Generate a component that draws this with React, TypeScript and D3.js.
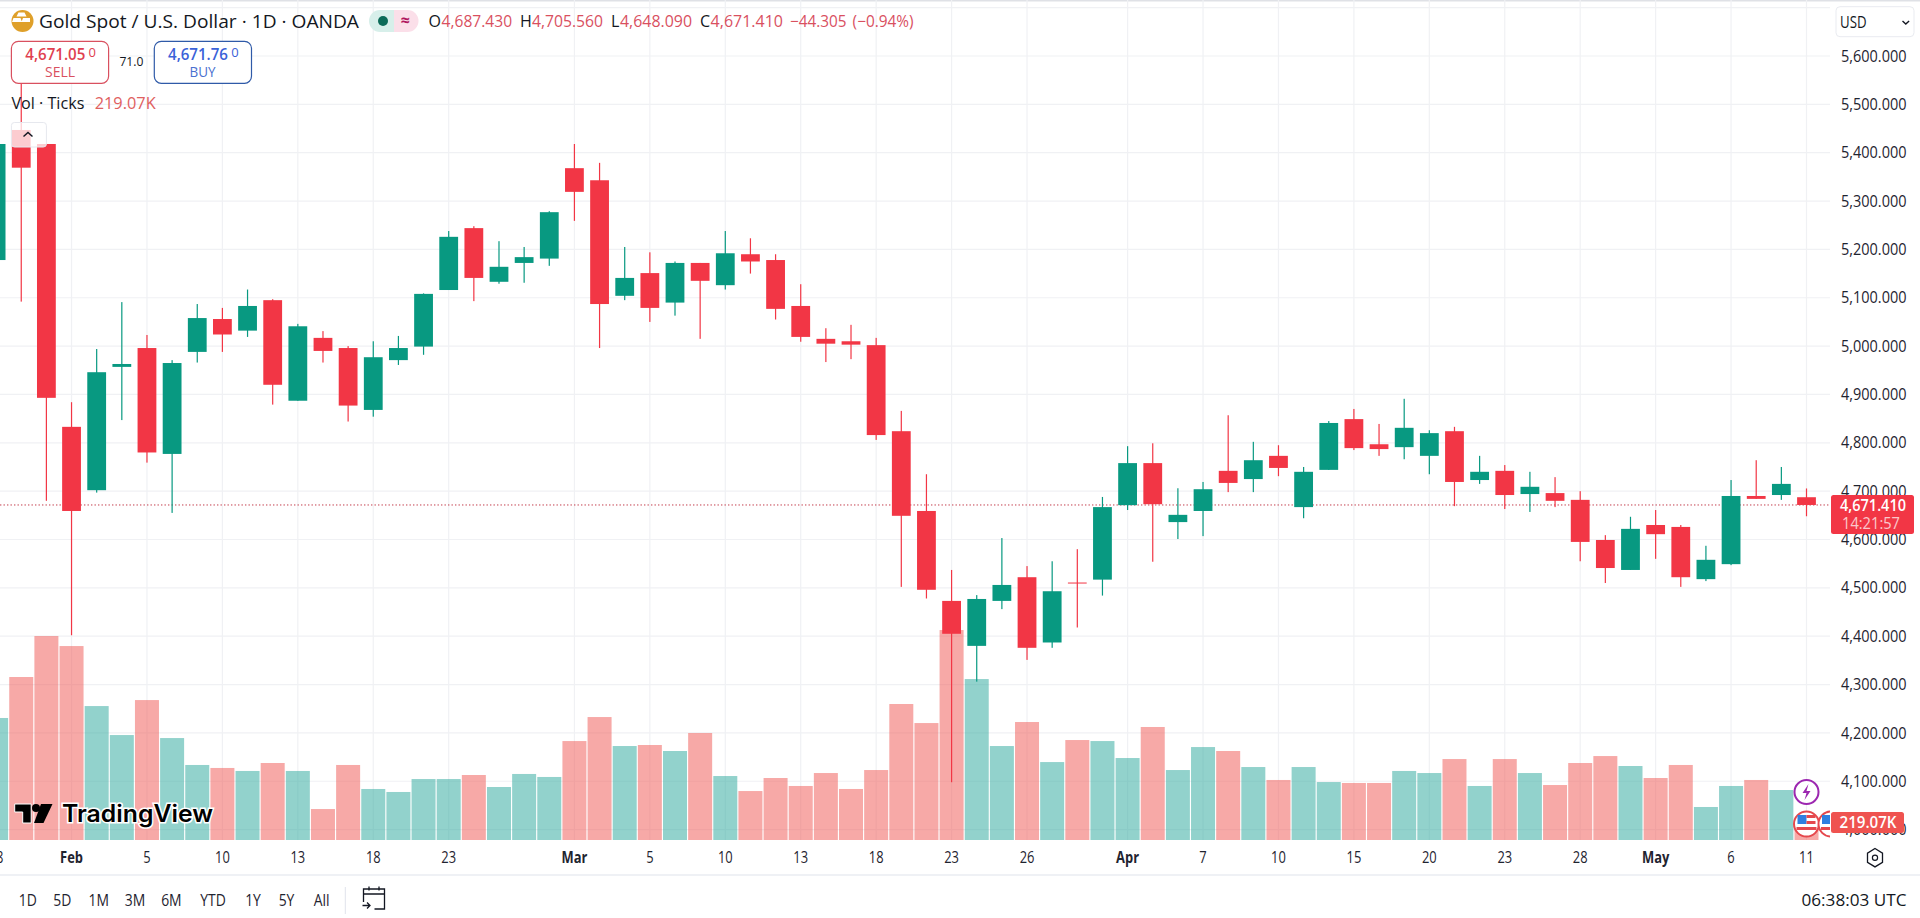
import React from "react";
import * as d3 from "d3";

// Daily candles, oldest first (first bar is 28 Jan)
const opens = [5178,5447,5418,4833,4702,4957,4996,4777,4988,5056,5032,5095,4887,5017,4996,4868,4971,4999,5116,5244,5133,5172,5181,5368,5343,5104,5151,5090,5172,5126,5190,5178,5083,5015,5010,5002,4824,4659,4473,4380,4473,4522,4387,4511,4517,4671,4758,4636,4659,4742,4725,4773,4667,4744,4849,4797,4791,4773,4824,4723,4742,4694,4696,4682,4599,4537,4630,4626,4518,4549,4690,4692,4687.43];
const highs = [5450,5543,5418,4884,4994,5091,5023,4971,5087,5079,5117,5097,5046,5031,5000,5010,5021,5109,5238,5248,5217,5205,5279,5418,5379,5205,5194,5175,5172,5238,5223,5190,5128,5037,5044,5017,4866,4735,4537,4485,4603,4545,4555,4580,4688,4793,4799,4706,4719,4857,4802,4795,4750,4845,4870,4839,4891,4826,4833,4773,4754,4740,4729,4700,4609,4647,4661,4630,4587,4723,4764,4750,4705.56];
const lows = [5100,5092,4680,4402,4697,4847,4759,4655,4966,4988,5019,4879,4887,4966,4844,4854,4961,4982,5116,5093,5129,5131,5166,5259,4996,5095,5050,5063,5015,5117,5150,5055,5009,4967,4973,4806,4502,4478,4098,4306,4456,4351,4376,4418,4484,4661,4554,4601,4607,4698,4698,4731,4644,4744,4785,4773,4766,4735,4669,4715,4663,4657,4667,4555,4510,4537,4560,4502,4514,4547,4684,4682,4648.09];
const closes = [5418,5369,4893,4659,4946,4963,4780,4965,5058,5024,5083,4920,5041,4990,4877,4977,4996,5108,5226,5141,5164,5184,5277,5319,5087,5141,5079,5172,5135,5192,5175,5077,5019,5005,5003,4816,4649,4496,4405,4477,4506,4376,4493,4509,4667,4758,4673,4651,4704,4717,4764,4748,4740,4841,4789,4787,4831,4820,4719,4740,4692,4709,4680,4595,4541,4622,4611,4522,4558,4690,4684,4715,4671.41];
const volumes = [1545,2064,2583,2456,1696,1329,1772,1291,950,912,874,975,874,392,950,646,608,772,772,823,671,836,798,1253,1557,1190,1203,1127,1355,810,620,785,684,848,646,886,1722,1481,2659,2038,1190,1494,987,1266,1253,1038,1431,886,1177,1127,924,760,924,734,722,722,874,848,1025,684,1025,848,696,975,1063,937,785,950,418,684,760,633,219.07];

const timeTickBars = [0,3,6,9,12,15,18,23,26,29,32,35,38,41,45,48,51,54,57,60,63,66,69,72];
const timeTickLabels = ["28","Feb","5","10","13","18","23","Mar","5","10","13","18","23","26","Apr","7","10","15","20","23","28","May","6","11"];
const monthLabels = ["Feb","Mar","Apr","May"];
const priceTicks = [5600,5500,5400,5300,5200,5100,5000,4900,4800,4700,4600,4500,4400,4300,4200,4100,4000];
const gridPrices = [5700, ...priceTicks];
const lastPrice = 4671.41;
const ranges = [["1D",27.8],["5D",62.4],["1M",98.8],["3M",135],["6M",171.4],["YTD",213],["1Y",253],["5Y",286.5],["All",321.6]] as const;

const UP = "#089981";
const DOWN = "#f23645";
const VOL_UP = "rgba(38,166,154,0.5)";
const VOL_DOWN = "rgba(239,83,80,0.5)";
const GRID = "#f0f1f4";
const TXT = "#131722";
const FONT = "'Open Sans', 'Noto Sans', sans-serif";

const W = 1920, H = 918, PANE_R = 1830, PANE_B = 840;

const x = d3.scaleLinear().domain([0, opens.length - 1]).range([-3.9, 1806.5]);
const y = d3.scaleLinear().domain([5600, 4000]).range([56, 829.6]);
const volY = d3.scaleLinear().domain([0, 219.07]).range([PANE_B, PANE_B - 17.3]);
const BODY = 18.8, VOLW = 24;

const fmt = d3.format(",.3f");

function T(p: any) {
  const { len, ...rest } = p;
  return <text fontFamily={FONT} fill={TXT} textLength={len} lengthAdjust={len ? "spacingAndGlyphs" : undefined} {...rest} />;
}

// Narrow, tall text: the reference's glyphs are condensed horizontally
function N(p: any) {
  const { x: px, y: py, sx, ...rest } = p;
  return <T transform={`translate(${px} ${py}) scale(${sx} 1)`} {...rest} />;
}

function Flag({ cx, cy }: { cx: number; cy: number }) {
  return (
    <g>
      <circle cx={cx} cy={cy} r={12.5} fill="#fff" stroke="#e5484d" strokeWidth={2} />
      <rect x={cx - 9} y={cy - 9} width={9} height={9} fill="#2f7fe0" />
      <rect x={cx} y={cy - 9} width={9} height={3} fill="#e5484d" />
      <rect x={cx} y={cy - 3} width={9} height={3} fill="#e5484d" />
      <rect x={cx - 10} y={cy + 3} width={20} height={3} fill="#e5484d" />
    </g>
  );
}

export default function App() {
  const isUp = (i: number) => closes[i] >= opens[i];
  return (
    <svg width={W} height={H} viewBox={`0 0 ${W} ${H}`} style={{ position: "absolute", left: 0, top: 0, display: "block", background: "#fff" }}>
      <defs>
        <clipPath id="pane"><rect x={0} y={0} width={PANE_R} height={PANE_B} /></clipPath>
      </defs>
      <rect x={0} y={0} width={W} height={1.5} fill="#dfe1e6" />

      {/* grid */}
      {gridPrices.map((p) => (
        <line key={p} x1={0} x2={PANE_R} y1={y(p)} y2={y(p)} stroke={GRID} strokeWidth={1.2} />
      ))}
      {timeTickBars.map((b) => (
        <line key={b} x1={x(b)} x2={x(b)} y1={0} y2={PANE_B} stroke={GRID} strokeWidth={1.2} />
      ))}

      {/* volume */}
      <g clipPath="url(#pane)">
        {volumes.map((v, i) => (
          <rect key={i} x={x(i) - VOLW / 2} y={volY(v)} width={VOLW} height={PANE_B - volY(v)} fill={isUp(i) ? VOL_UP : VOL_DOWN} />
        ))}
      </g>

      {/* last price line */}
      <line x1={0} x2={PANE_R} y1={y(lastPrice)} y2={y(lastPrice)} stroke="#c23a4a" strokeWidth={1} strokeDasharray="1.4 2.1" />

      {/* candles */}
      <g clipPath="url(#pane)">
        {opens.map((o, i) => {
          const c = closes[i];
          const col = isUp(i) ? UP : DOWN;
          const top = y(Math.max(o, c));
          const bot = y(Math.min(o, c));
          return (
            <g key={i}>
              <rect x={x(i) - 0.6} y={y(highs[i])} width={1.2} height={y(lows[i]) - y(highs[i])} fill={col} />
              <rect x={x(i) - BODY / 2} y={top} width={BODY} height={Math.max(bot - top, 1)} fill={col} />
            </g>
          );
        })}
      </g>

      {/* header */}
      <circle cx={22.5} cy={21} r={11} fill="#dfa02a" />
      <path d="M19 12.5h6l2 4h-10z M14 18h7l1.5 4h-10z M23.5 18h7l-0 4h-8.5z" fill="#fff" transform="translate(-0.5 0)" />
      <T x={39} y={28} fontSize={18.6} len={320}>Gold Spot / U.S. Dollar · 1D · OANDA</T>
      <path d="M380 10h-0a11 11 0 0 0 0 22h14v-22z" fill="#d7efea" />
      <path d="M394 10h13.5a11 11 0 0 1 0 22h-13.5z" fill="#fbdfe9" />
      <circle cx={383} cy={21} r={5} fill="#0b6b58" />
      <T x={405} y={26} fontSize={16} textAnchor="middle" fill="#b0175f" fontWeight={700}>≈</T>

      <T x={428.6} y={27} fontSize={16}>O</T>
      <T x={441.6} y={27} fontSize={16} fill="#d9505f" len={70.5}>4,687.430</T>
      <T x={520} y={27} fontSize={16}>H</T>
      <T x={532} y={27} fontSize={16} fill="#d9505f" len={71}>4,705.560</T>
      <T x={611} y={27} fontSize={16}>L</T>
      <T x={620} y={27} fontSize={16} fill="#d9505f" len={72}>4,648.090</T>
      <T x={700} y={27} fontSize={16}>C</T>
      <T x={710.6} y={27} fontSize={16} fill="#d9505f" len={72.4}>4,671.410</T>
      <T x={790} y={27} fontSize={16} fill="#d9505f" len={56.5}>−44.305</T>
      <T x={852.6} y={27} fontSize={16} fill="#d9505f" len={61}>(−0.94%)</T>

      {/* sell / buy */}
      <rect x={11.4} y={41.3} width={97.2} height={42} rx={7} fill="#fff" stroke="#d9505f" strokeWidth={1.2} />
      <T x={25.3} y={60} fontSize={16} fontWeight={600} fill="#e0404f" len={60}>4,671.05</T>
      <T x={88.5} y={57} fontSize={13} fill="#e0404f">0</T>
      <T x={60} y={76.5} fontSize={14.5} textAnchor="middle" fill="#d9505f" len={30}>SELL</T>
      <T x={131.4} y={66} fontSize={13} textAnchor="middle" len={24}>71.0</T>
      <rect x={154.3} y={41.3} width={97.2} height={42} rx={7} fill="#fff" stroke="#2f5aa8" strokeWidth={1.2} />
      <T x={168} y={60} fontSize={16} fontWeight={600} fill="#3a62d8" len={60}>4,671.76</T>
      <T x={231.2} y={57} fontSize={13} fill="#3a62d8">0</T>
      <T x={202.6} y={76.5} fontSize={14.5} textAnchor="middle" fill="#4a70d0" len={26}>BUY</T>

      {/* volume legend */}
      <T x={11.4} y={109} fontSize={15.4} len={73}>Vol · Ticks</T>
      <T x={94.7} y={109} fontSize={15.4} fill="#e06060" len={61}>219.07K</T>

      {/* collapse button */}
      <rect x={11.4} y={122.5} width={35} height={24.5} rx={3} fill="rgba(255,255,255,0.75)" stroke="#e6e8ee" />
      <path d="M23.5 136.5l4.5-4 4.5 4" fill="none" stroke="#131722" strokeWidth={1.5} />

      {/* price axis */}
      {priceTicks.map((p) => (
        <T key={p} x={1906.5} y={y(p) + 5.6} fontSize={16.2} textAnchor="end" len={65.5} fill="#1f2430">{fmt(p)}</T>
      ))}
      <rect x={1836} y={6.7} width={78} height={30} rx={4} fill="#fff" stroke="#e9ebf0" />
      <T x={1840} y={28} fontSize={16} len={26.5}>USD</T>
      <path d="M1902.5 21l3.3 3 3.3-3" fill="none" stroke={TXT} strokeWidth={1.4} />

      {/* events */}
      <circle cx={x(72)} cy={792} r={12} fill="#fff" stroke="#9c27b0" strokeWidth={2} />
      <path d="M1808.5 784l-6 9h4l-2 7 6-9h-4z" fill="#9c27b0" />
      <g clipPath="url(#pane)">
        <Flag cx={x(72)} cy={824} />
        <Flag cx={1831} cy={824} />
      </g>

      {/* price labels */}
      <rect x={1831} y={495} width={83} height={39} rx={2.5} fill={DOWN} />
      <T x={1873} y={510.5} fontSize={16} fontWeight={600} textAnchor="middle" fill="#fff" len={66}>{fmt(lastPrice)}</T>
      <T x={1871} y={528.5} fontSize={16} textAnchor="middle" fill="#fff" opacity={0.72} len={58}>14:21:57</T>
      <rect x={1831} y={812} width={73} height={21} rx={2.5} fill="#ef5350" />
      <T x={1868} y={828} fontSize={16} fontWeight={600} textAnchor="middle" fill="#fff" len={57}>219.07K</T>

      {/* time axis */}
      <line x1={0} x2={W} y1={875} y2={875} stroke="#e0e3eb" strokeWidth={1.2} />
      {timeTickBars.map((b, k) => {
        const label = timeTickLabels[k];
        const month = monthLabels.includes(label);
        return (
          <N key={b} x={x(b)} y={863} sx={0.84} fontSize={15.4} textAnchor="middle" fontWeight={month ? 700 : 400} fill="#1f2430">{label}</N>
        );
      })}
      <path d="M1875 848.5l7.5 4.6v9.2l-7.5 4.6l-7.5-4.6v-9.2z" fill="none" stroke={TXT} strokeWidth={1.3} />
      <circle cx={1875} cy={857.7} r={2.6} fill="none" stroke={TXT} strokeWidth={1.2} />

      {/* logo */}
      <path d="M14.7 804h16.5v19h-8.5v-11h-8z" fill="#000" stroke="#fff" strokeWidth={1} />
      <circle cx={36} cy={808} r={4} fill="#000" />
      <path d="M41 804h11.5l-9 19h-9.5z" fill="#000" />
      <text x={62} y={822} fontFamily="Inter, Lato, sans-serif" fontSize={24} fontWeight={600} fill="#000" stroke="#fff" strokeWidth={3} paintOrder="stroke" textLength={151} lengthAdjust="spacingAndGlyphs">TradingView</text>

      {/* bottom bar */}
      {ranges.map(([label, cx]) => (
        <N key={label} x={cx} y={905.5} sx={0.82} fontSize={17} textAnchor="middle" fill="#1f2430">{label}</N>
      ))}
      <line x1={345.3} x2={345.3} y1={887} y2={914} stroke="#e0e3eb" />
      <g fill="none" stroke={TXT} strokeWidth={1.3}>
        <path d="M363.5 902v-13h21v20h-10" />
        <path d="M363.5 894h21M369 886.5v4M379 886.5v4" />
        <path d="M362.5 905.5h7.5M367 902.5l3 3-3 3" />
      </g>
      <T x={1906.5} y={905.5} fontSize={17} textAnchor="end" len={105}>06:38:03 UTC</T>
    </svg>
  );
}
